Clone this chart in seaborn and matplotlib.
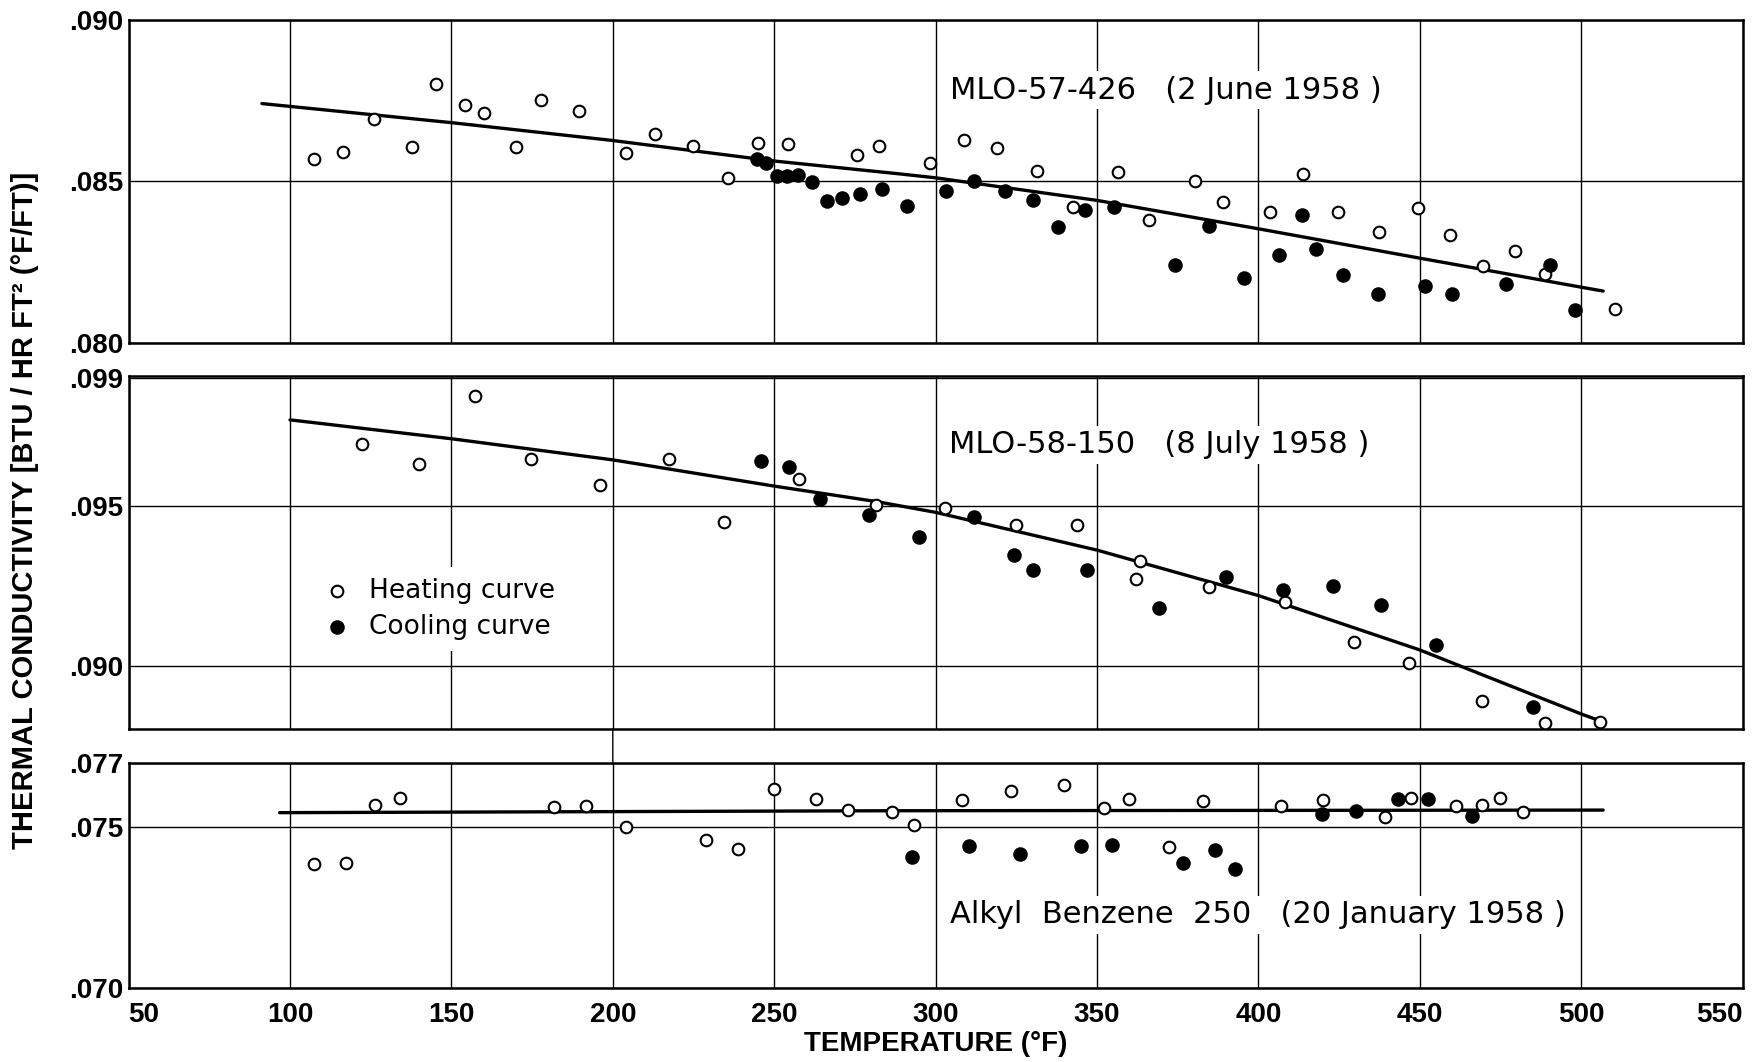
import matplotlib
matplotlib.use("Agg")
import matplotlib.pyplot as plt
import seaborn as sns
from matplotlib.patches import ConnectionPatch

# ---------------- data ----------------
x_ticks = [50, 100, 150, 200, 250, 300, 350, 400, 450, 500, 550]
x_ticklabels = ["50", "100", "150", "200", "250", "300", "350", "400", "450", "500", "550"]

# Panel 1: MLO-57-426 (2 June 1958)
p1_title = "MLO-57-426   (2 June 1958 )"
p1_heat_T = [107.3, 116.5, 126.0, 137.9, 145.1, 154.1, 160.0, 169.9, 177.8, 189.5,
             204.2, 213.2, 224.7, 235.7, 245.1, 254.3, 275.7, 282.6, 298.2, 308.9,
             319.1, 331.3, 342.5, 356.4, 366.1, 380.4, 388.9, 403.6, 413.9, 424.6,
             437.5, 449.5, 459.5, 469.6, 479.5, 488.8, 510.4]
p1_heat_k = [0.08568, 0.08590, 0.08693, 0.08605, 0.08802, 0.08738, 0.08713, 0.08605, 0.08751, 0.08718,
             0.08589, 0.08646, 0.08610, 0.08510, 0.08620, 0.08616, 0.08582, 0.08610, 0.08557, 0.08627,
             0.08602, 0.08533, 0.08420, 0.08529, 0.08380, 0.08502, 0.08436, 0.08405, 0.08523, 0.08405,
             0.08342, 0.08418, 0.08333, 0.08239, 0.08283, 0.08212, 0.08104]
p1_cool_T = [244.7, 247.5, 250.9, 254.1, 257.3, 261.7, 266.3, 271.1, 276.7, 283.4,
             291.1, 303.2, 312.0, 321.6, 330.2, 337.9, 346.4, 355.2, 374.1, 384.6,
             395.4, 406.4, 413.4, 417.9, 426.3, 437.1, 451.6, 460.0, 476.8, 490.2,
             498.0]
p1_cool_k = [0.08570, 0.08558, 0.08517, 0.08517, 0.08521, 0.08498, 0.08440, 0.08448, 0.08460, 0.08477,
             0.08423, 0.08469, 0.08500, 0.08469, 0.08443, 0.08360, 0.08411, 0.08421, 0.08241, 0.08363,
             0.08202, 0.08272, 0.08396, 0.08289, 0.08210, 0.08150, 0.08175, 0.08152, 0.08182, 0.08242,
             0.08100]
p1_line_T = [91.3, 149.9, 199.6, 250.0, 288.0, 300.0, 350.0, 400.0, 450.0, 500.0, 506.8]
p1_line_k = [0.08741, 0.08682, 0.08627, 0.08563, 0.08524, 0.08511, 0.08441, 0.08353, 0.08262, 0.08172, 0.08160]
p1_yticks = [0.080, 0.085, 0.090]
p1_yticklabels = [".080", ".085", ".090"]
p1_ylim = (0.080, 0.090)

# Panel 2: MLO-58-150 (8 July 1958)
p2_title = "MLO-58-150   (8 July 1958 )"
p2_heat_T = [122.3, 140.0, 157.3, 174.8, 195.9, 217.5, 234.6, 257.8, 281.5, 303.0,
             324.9, 343.8, 363.3, 362.1, 384.8, 408.3, 429.5, 446.7, 469.4, 488.9, 505.7]
p2_heat_k = [0.09693, 0.09631, 0.09844, 0.09645, 0.09563, 0.09645, 0.09450, 0.09583, 0.09503, 0.09492,
             0.09439, 0.09441, 0.09327, 0.09270, 0.09247, 0.09198, 0.09073, 0.09008, 0.08891, 0.08821, 0.08825]
p2_cool_T = [245.9, 254.6, 264.2, 279.4, 295.0, 312.0, 324.3, 330.1, 346.9, 369.1,
             390.0, 407.7, 423.1, 438.1, 454.9, 485.0]
p2_cool_k = [0.09639, 0.09620, 0.09522, 0.09472, 0.09403, 0.09464, 0.09347, 0.09299, 0.09299, 0.09180,
             0.09278, 0.09236, 0.09249, 0.09188, 0.09066, 0.08872]
p2_line_T = [100.0, 150.0, 200.0, 250.0, 281.5, 300.0, 350.0, 400.0, 450.0, 500.0, 505.7]
p2_line_k = [0.09768, 0.09709, 0.09643, 0.09561, 0.09513, 0.09479, 0.09361, 0.09219, 0.09049, 0.08849, 0.08828]
p2_yticks = [0.090, 0.095, 0.099]
p2_yticklabels = [".090", ".095", ".099"]
p2_ylim = (0.08802, 0.09906)

# Panel 3: Alkyl Benzene 250 (20 January 1958)
p3_title = "Alkyl  Benzene  250   (20 January 1958 )"
p3_heat_T = [107.4, 117.5, 126.2, 134.2, 181.8, 191.7, 204.0, 228.9, 238.7, 249.8,
             262.9, 272.8, 286.6, 293.2, 308.1, 323.3, 339.7, 352.1, 359.8, 372.2,
             382.7, 407.1, 420.1, 439.1, 447.2, 461.3, 469.4, 474.9, 481.9]
p3_heat_k = [0.07386, 0.07390, 0.07568, 0.07591, 0.07564, 0.07566, 0.07500, 0.07461, 0.07431, 0.07619,
             0.07588, 0.07552, 0.07546, 0.07508, 0.07583, 0.07612, 0.07631, 0.07560, 0.07587, 0.07438,
             0.07580, 0.07565, 0.07583, 0.07531, 0.07589, 0.07567, 0.07568, 0.07591, 0.07546]
p3_cool_T = [292.7, 310.2, 326.0, 345.1, 354.8, 376.6, 386.7, 392.9, 419.8, 430.2,
             443.2, 452.6, 466.2]
p3_cool_k = [0.07407, 0.07442, 0.07417, 0.07442, 0.07445, 0.07388, 0.07428, 0.07369, 0.07542, 0.07550,
             0.07587, 0.07587, 0.07534]
p3_line_T = [96.8, 287.0, 506.8]
p3_line_k = [0.07545, 0.07551, 0.07553]
p3_yticks = [0.070, 0.075, 0.077]
p3_yticklabels = [".070", ".075", ".077"]
p3_ylim = (0.070, 0.077)

legend_labels = ["Heating curve", "Cooling curve"]
y_label = "THERMAL CONDUCTIVITY [BTU / HR FT\u00b2 (\u00b0F/FT)]"
x_label = "TEMPERATURE (\u00b0F)"

# ---------------- figure ----------------
sns.set_style("white")
plt.rcParams["font.family"] = ["Liberation Sans", "DejaVu Sans"]
plt.rcParams["text.color"] = "black"

fig = plt.figure(figsize=(17.57, 10.62), dpi=100)
L, W = 0.0732, 0.9186
ax1 = fig.add_axes([L, 0.67731, W, 0.30386])
ax2 = fig.add_axes([L, 0.31356, W, 0.33267])
ax3 = fig.add_axes([L, 0.06939, W, 0.21243])

panels = [
    (ax1, p1_heat_T, p1_heat_k, p1_cool_T, p1_cool_k, p1_line_T, p1_line_k,
     p1_yticks, p1_yticklabels, p1_ylim, p1_title, (0.509, 0.783)),
    (ax2, p2_heat_T, p2_heat_k, p2_cool_T, p2_cool_k, p2_line_T, p2_line_k,
     p2_yticks, p2_yticklabels, p2_ylim, p2_title, (0.508, 0.804)),
    (ax3, p3_heat_T, p3_heat_k, p3_cool_T, p3_cool_k, p3_line_T, p3_line_k,
     p3_yticks, p3_yticklabels, p3_ylim, p3_title, (0.509, 0.325)),
]

for (ax, hT, hk, cT, ck, lT, lk, yt, ytl, ylim, title, tpos) in panels:
    sns.lineplot(x=lT, y=lk, ax=ax, color="black", linewidth=2.4, sort=False,
                 estimator=None, zorder=3)
    sns.scatterplot(x=hT, y=hk, ax=ax, marker="o", s=70, color="white",
                    edgecolor="black", linewidth=1.5, zorder=4,
                    label=legend_labels[0], legend=False)
    sns.scatterplot(x=cT, y=ck, ax=ax, marker="o", s=110, color="black",
                    edgecolor="black", linewidth=0, zorder=4,
                    label=legend_labels[1], legend=False)
    ax.set_xlim(50, 550)
    ax.set_ylim(*ylim)
    ax.set_xticks(x_ticks)
    ax.set_yticks(yt)
    ax.set_yticklabels(ytl)
    ax.set_xlabel("")
    ax.set_ylabel("")
    ax.set_axisbelow(True)
    ax.grid(True, color="black", linewidth=1.0)
    for sp in ax.spines.values():
        sp.set_visible(True)
        sp.set_color("black")
        sp.set_linewidth(1.8)
    ax.tick_params(axis="both", length=0, labelsize=20, labelcolor="black")
    ax.tick_params(axis="y", pad=4)
    for lab in ax.get_yticklabels():
        lab.set_fontweight("bold")
    ax.text(tpos[0], tpos[1], title, transform=ax.transAxes, ha="left", va="center",
            fontsize=22, color="black", family=["DejaVu Sans"], zorder=3,
            bbox=dict(facecolor="white", edgecolor="none", pad=3))

for ax in (ax1, ax2):
    ax.tick_params(axis="x", labelbottom=False)
ax3.set_xticklabels(x_ticklabels)
ax3.tick_params(axis="x", pad=10)
xt_labels = ax3.get_xticklabels()
for lab in xt_labels:
    lab.set_fontweight("bold")
xt_labels[0].set_horizontalalignment("left")
xt_labels[-1].set_horizontalalignment("right")

# legend in the middle panel
handles, labels = ax2.get_legend_handles_labels()
leg = ax2.legend(handles[:2], labels[:2], loc="upper left", bbox_to_anchor=(0.1143, 0.4585),
                 frameon=True, facecolor="white", edgecolor="none", framealpha=1,
                 fancybox=False, handlelength=1.0, handletextpad=0.7,
                 labelspacing=0.4, borderpad=0.4, borderaxespad=0,
                 prop={"family": ["DejaVu Sans"], "size": 19})
for t in leg.get_texts():
    t.set_color("black")

# the 200 F grid line runs through the gap between the lower panels
con = ConnectionPatch(xyA=(200, p2_ylim[0]), xyB=(200, p3_ylim[1]),
                      coordsA=ax2.transData, coordsB=ax3.transData,
                      color="black", linewidth=1.0)
fig.add_artist(con)

fig.text(25.5 / 1757, 1 - 510 / 1062, y_label, rotation=90, ha="center", va="center",
         fontsize=21, fontweight="bold", color="black")
fig.text(935.6 / 1757, 1 - 1044 / 1062, x_label, ha="center", va="center",
         fontsize=20, fontweight="bold", color="black")

fig.savefig("out.png", dpi=100, facecolor="white")
